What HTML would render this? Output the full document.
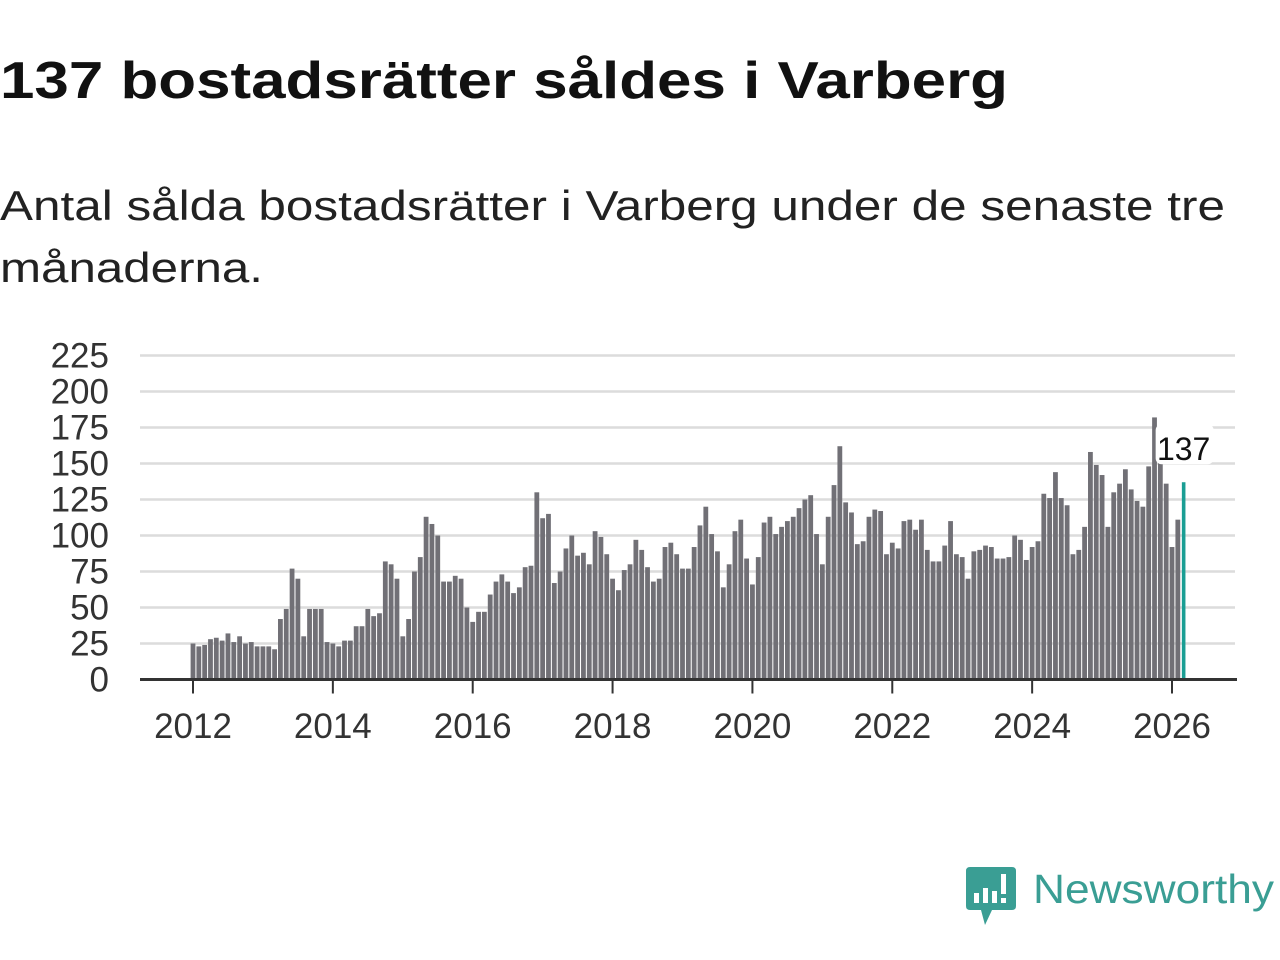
<!DOCTYPE html>
<html><head><meta charset="utf-8"><style>
body{margin:0;background:#fff;width:1280px;height:960px;overflow:hidden;font-family:"Liberation Sans",sans-serif}
</style></head><body>
<svg width="1280" height="960" viewBox="0 0 1280 960" style="position:absolute;left:0;top:0">
<text x="0" y="98" font-size="52" font-weight="bold" fill="#111" textLength="1008" lengthAdjust="spacingAndGlyphs">137 bostadsrätter såldes i Varberg</text>
<text x="0" y="220" font-size="42" fill="#222" textLength="1225" lengthAdjust="spacingAndGlyphs">Antal sålda bostadsrätter i Varberg under de senaste tre</text>
<text x="0" y="282" font-size="42" fill="#222" textLength="263" lengthAdjust="spacingAndGlyphs">månaderna.</text>
<g id="grid"></g>
<g id="ylab"></g>
<g id="bars"></g>
<g id="xaxis"></g>
<g id="annot"></g>
<g>
<path d="M970 867 H1012 Q1016 867 1016 871 V906 Q1016 910 1012 910 H992 L985 925 L981 910 H970 Q966 910 966 906 V871 Q966 867 970 867 Z" fill="#3a9e94"/>
<rect x="974" y="893" width="5" height="10" fill="#fff"/><rect x="983" y="888" width="5" height="15" fill="#fff"/><rect x="992" y="891" width="5" height="12" fill="#fff"/><rect x="1001" y="874" width="5" height="20" fill="#fff"/><rect x="1001" y="898" width="5" height="5" fill="#fff"/>
<text x="1033" y="903" font-size="41" fill="#3a9e94" textLength="241" lengthAdjust="spacingAndGlyphs">Newsworthy</text>
</g>
</svg>
<script>
const years=[2012,2013,2014,2015,2016,2017,2018,2019,2020,2021,2022,2023,2024,2025,2026];
const yTicks=[0,25,50,75,100,125,150,175,200,225];
const xTickLabels=["2012","2014","2016","2018","2020","2022","2024","2026"];
const values=[
25,23,24,28,29,27,32,26,30,25,26,23,
23,23,21,42,49,77,70,30,49,49,49,26,
25,23,27,27,37,37,49,44,46,82,80,70,
30,42,75,85,113,108,100,68,68,72,70,50,
40,47,47,59,68,73,68,60,64,78,79,130,
112,115,67,75,91,100,86,88,80,103,99,87,
70,62,76,80,97,90,78,68,70,92,95,87,
77,77,92,107,120,101,89,64,80,103,111,84,
66,85,109,113,101,106,110,113,119,125,128,101,
80,113,135,162,123,116,94,96,113,118,117,87,
95,91,110,111,104,111,90,82,82,93,110,87,
85,70,89,90,93,92,84,84,85,100,97,83,
92,96,129,126,144,126,121,87,90,106,158,149,
142,106,130,136,146,132,124,120,148,182,175,136,
92,111,137];
const NS="http://www.w3.org/2000/svg";
const y0=679.5,pxPer=324/225;
const yS=v=>y0-v*pxPer;
const x2012=193,pxYear=(1172-193)/14;
const xS=t=>x2012+t*pxYear; // t in years since 2012
function mk(tag,attrs,parent){const e=document.createElementNS(NS,tag);for(const k in attrs)e.setAttribute(k,attrs[k]);parent.appendChild(e);return e;}
const grid=document.getElementById('grid'),ylab=document.getElementById('ylab');
yTicks.forEach(v=>{
 if(v>0){const l=mk('line',{x1:140,x2:1235,y1:yS(v),y2:yS(v),stroke:'#dcdcdc','stroke-width':2.5},grid);
 
 }
 const t=mk('text',{x:109,y:yS(v)+12,'font-size':35,'text-anchor':'end',fill:'#333'},ylab);
 t.textContent=v;
 
 
});
const bars=document.getElementById('bars');
values.forEach((v,i)=>{
 const last=i===values.length-1;
 const cx=xS(i/12);
 const r=mk('rect',{x:cx-(last?1.8:2.4),width:last?3.6:4.8,y:yS(v),height:y0-yS(v),fill:last?'#1a9e94':'#717076'},bars);
 
 
});
const xa=document.getElementById('xaxis');
const axl=mk('line',{x1:140,x2:1237,y1:y0,y2:y0,stroke:'#333','stroke-width':3},xa);


xTickLabels.forEach(s=>{
 const x=xS(+s-2012);
 const tk=mk('line',{x1:x,x2:x,y1:y0,y2:y0+14,stroke:'#333','stroke-width':2},xa);
 
 
 const t=mk('text',{x:x,y:738,'font-size':35,'text-anchor':'middle',fill:'#333'},xa);
 t.textContent=s;
 
 
});
const an=document.getElementById('annot');
const lv=values[values.length-1],lx=xS((values.length-1)/12);
mk('rect',{x:lx-28,y:yS(lv)-58,width:58,height:40,rx:6,fill:'#fff'},an);
const at=mk('text',{x:lx,y:yS(lv)-22,'font-size':32,'text-anchor':'middle',fill:'#111'},an);
at.textContent=lv;


</script>
</body></html>
